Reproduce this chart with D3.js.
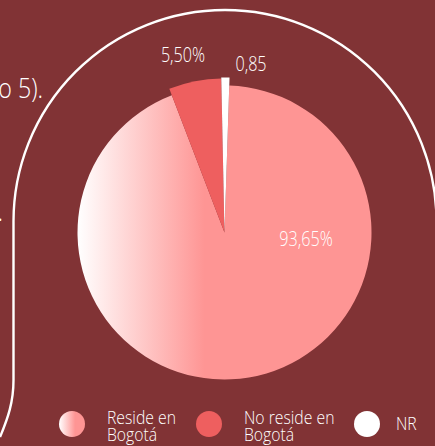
<!DOCTYPE html>
<html>
<head>
<meta charset="utf-8">
<script src="https://cdn.jsdelivr.net/npm/d3@7"></script>
<style>
html,body{margin:0;padding:0;background:#813335;}
svg{display:block;}
text{font-family:"Open Sans",sans-serif;font-weight:300;fill:#fff;}
</style>
</head>
<body>
<svg id="chart" width="435" height="446"></svg>
<script>
const categories = ["Reside en Bogotá", "No reside en Bogotá", "NR"];
const values = [93.65, 5.50, 0.85];
const valueLabels = ["93,65%", "5,50%", "0,85"];
const legendLines = [["Reside en", "Bogotá"], ["No reside en", "Bogotá"], ["NR"]];

const W = 435, H = 446;
const SX = 0.83; // horizontal compression to mimic a semi-condensed face
const svg = d3.select("#chart");
const bg = "#813335";
svg.append("rect").attr("width", W).attr("height", H).attr("fill", bg);

function label(parent, x, y, size, str, anchor) {
  return parent.append("g").attr("transform", `translate(${x},${y}) scale(${SX},1)`)
    .append("text").attr("text-anchor", anchor || "start")
    .style("font-size", size + "px").text(str);
}

const defs = svg.append("defs");
const cx = 224.5, cy = 232.5;
const gPie = defs.append("linearGradient").attr("id", "gpie")
  .attr("gradientUnits", "userSpaceOnUse")
  .attr("x1", -147).attr("x2", -20).attr("y1", 0).attr("y2", 0);
gPie.append("stop").attr("offset", 0).attr("stop-color", "#ffffff");
gPie.append("stop").attr("offset", 1).attr("stop-color", "#fe9594");
const gLeg = defs.append("linearGradient").attr("id", "gleg")
  .attr("x1", 0).attr("x2", 0.62).attr("y1", 0).attr("y2", 0);
gLeg.append("stop").attr("offset", 0).attr("stop-color", "#ffffff");
gLeg.append("stop").attr("offset", 1).attr("stop-color", "#fe9594");

const fills = ["url(#gpie)", "#ee5f5f", "#ffffff"];
const legFills = ["url(#gleg)", "#ee5f5f", "#ffffff"];
const outerR = [147, 154, 155];

// frame line
svg.append("path")
  .attr("d", "M0,437 C8,418 13.5,402 13.5,380 L13.5,221.5 A211.5,211.5 0 0 1 436.5,221.5")
  .attr("fill", "none").attr("stroke", "#fff").attr("stroke-width", 2.4);

// left cut-off text
label(svg, 43, 98, 28, "(Gráfico 5).", "end");
label(svg, 3, 221, 28, ".", "end");

const start = 1.86 * Math.PI / 180;
const pie = d3.pie().sort(null).startAngle(start).endAngle(start + 2 * Math.PI);
const arcs = pie(values);
const g = svg.append("g").attr("transform", `translate(${cx},${cy})`);
g.selectAll("path.slice").data(arcs).join("path").attr("class", "slice")
  .attr("d", (d, i) => d3.arc().innerRadius(0).outerRadius(outerR[i])(d))
  .attr("fill", (d, i) => fills[i]);

// labels (offsets around pie center)
const labelPos = [[81.5, 13.5], [-41.5, -170.5], [26.5, -161.5]];
arcs.forEach((d, i) => label(g, labelPos[i][0], labelPos[i][1], 19.5, valueLabels[i], "middle"));

// legend
const legX = [72, 209, 367];
const lg = svg.append("g");
categories.forEach((c, i) => {
  lg.append("circle").attr("cx", legX[i]).attr("cy", 424).attr("r", 13).attr("fill", legFills[i]);
  const tx = legX[i] + (i === 2 ? 29 : 35);
  const y0 = legendLines[i].length > 1 ? 424 : 430;
  legendLines[i].forEach((l, j) => label(lg, tx, y0 + j * 17, 19, l));
});
</script>
</body>
</html>
